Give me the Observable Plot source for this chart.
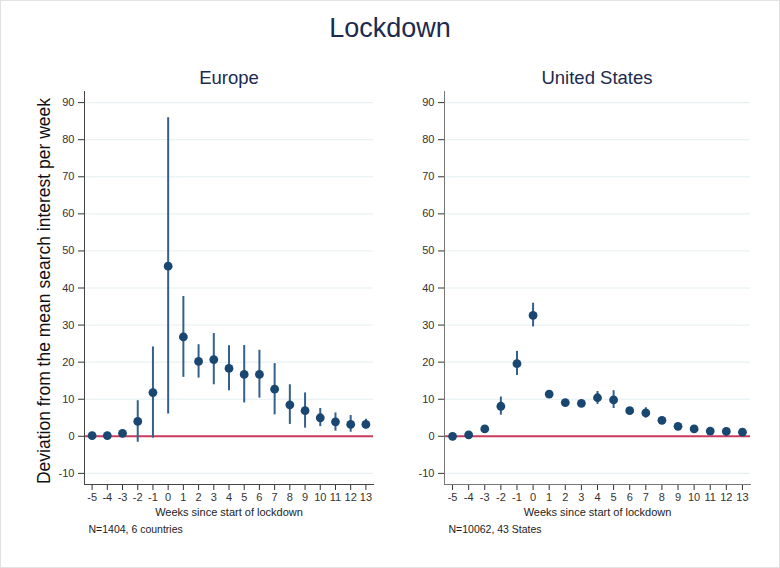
<!DOCTYPE html>
<html>
<head>
<meta charset="utf-8">
<script src="https://cdn.jsdelivr.net/npm/d3@7"></script>
<script src="https://cdn.jsdelivr.net/npm/@observablehq/plot@0.6"></script>
<style>
  html, body { margin: 0; padding: 0; background: #fff; }
  #chart { position: relative; width: 778px; height: 566px; border: 1px solid #e2e2e2; background: #fff; font-family: "Liberation Sans", Arial, sans-serif; overflow: hidden; }
  .abs { position: absolute; white-space: nowrap; }
  #title { left: 0; width: 778px; top: 12px; text-align: center; font-size: 27px; color: #1c2a4d; }
  .panel-title { font-size: 18.5px; color: #1c2a4d; transform: translateX(-50%); }
  #ylabel { left: 43px; top: 290px; font-size: 17.5px; color: #111; transform: translate(-50%, -50%) rotate(-90deg); }
  .panel { position: absolute; top: 60px; }
</style>
</head>
<body>
<div id="chart">
  <div id="title" class="abs">Lockdown</div>
  <div class="abs panel-title" style="left:228px; top:66px;">Europe</div>
  <div class="abs panel-title" style="left:596px; top:66px;">United States</div>
  <div id="ylabel" class="abs">Deviation from the mean search interest per week</div>
  <div id="eu" class="panel" style="left:0px;"></div>
  <div id="us" class="panel" style="left:360px;"></div>
</div>
<script>
// Weeks since start of lockdown
const weeks = [-5, -4, -3, -2, -1, 0, 1, 2, 3, 4, 5, 6, 7, 8, 9, 10, 11, 12, 13];
const yTicks = [-10, 0, 10, 20, 30, 40, 50, 60, 70, 80, 90];

// Europe: estimate, lower CI, upper CI
const euEst = [0.2, 0.2, 0.8, 4.0, 11.8, 45.9, 26.8, 20.2, 20.7, 18.3, 16.7, 16.7, 12.7, 8.5, 6.9, 5.0, 3.9, 3.2, 3.2];
const euLo  = [-0.3, -0.2, -0.3, -1.6, -0.5, 6.0, 15.9, 15.7, 13.9, 12.3, 9.0, 10.3, 5.8, 3.2, 2.2, 2.6, 1.4, 1.1, 2.0];
const euHi  = [0.6, 0.6, 1.7, 9.6, 24.1, 85.9, 37.7, 24.7, 27.7, 24.4, 24.5, 23.2, 19.6, 13.9, 11.7, 7.5, 6.3, 5.6, 4.6];

// United States: estimate, lower CI, upper CI
const usEst = [0.0, 0.4, 2.0, 8.1, 19.6, 32.6, 11.4, 9.1, 8.9, 10.4, 9.8, 6.9, 6.3, 4.3, 2.7, 2.0, 1.4, 1.3, 1.1];
const usLo  = [-0.2, 0.1, 1.6, 5.7, 16.4, 29.5, 11.0, 8.8, 8.6, 8.6, 7.5, 6.6, 4.9, 4.0, 2.4, 1.7, 1.1, 1.0, 0.8];
const usHi  = [0.2, 0.7, 2.4, 10.6, 22.9, 35.9, 11.8, 9.4, 9.2, 12.1, 12.3, 7.2, 7.7, 4.6, 3.0, 2.3, 1.7, 1.6, 1.4];

const euNote = "N=1404, 6 countries";
const usNote = "N=10062, 43 States";
const xLabel = "Weeks since start of lockdown";

function table(est, lo, hi) {
  return weeks.map((w, i) => ({week: w, est: est[i], lo: lo[i], hi: hi[i]}));
}

function panel(data, note, width, marginRight, axisColor) {
  return Plot.plot({
    width: width,
    height: 500,
    marginLeft: 83,
    marginRight: marginRight,
    marginTop: 30,
    marginBottom: 77,
    style: {fontFamily: "Liberation Sans, Arial, sans-serif", fontSize: "11px", color: "#333", background: "transparent", overflow: "visible"},
    x: {domain: [-5.5, 13.5]},
    y: {domain: [-13, 93]},
    marks: [
      Plot.gridY(yTicks.filter(d => d !== 0), {stroke: "#e4eef0", strokeOpacity: 1, strokeWidth: 1}),
      Plot.ruleY([0], {stroke: "#c93b5d", strokeWidth: 2}),
      Plot.ruleX(data, {x: "week", y1: "lo", y2: "hi", stroke: "#34608e", strokeWidth: 2}),
      Plot.dot(data, {x: "week", y: "est", r: 4.4, fill: "#1a4672", stroke: "none"}),
      Plot.axisY(yTicks, {tickSize: 6, tickPadding: 4, tickFormat: d => String(d), label: null, stroke: "#333", fill: "#333"}),
      Plot.axisX(weeks, {tickSize: 6, tickPadding: 3, tickFormat: d => String(d), label: null, stroke: "#333", fill: "#333"}),
      Plot.frame({anchor: "left", stroke: axisColor}),
      Plot.frame({anchor: "bottom", stroke: axisColor}),
      Plot.text([xLabel], {frameAnchor: "bottom", dy: 28, fontSize: 11, fill: "#222", lineAnchor: "middle"}),
      Plot.text([note], {frameAnchor: "bottom-left", dx: 4, dy: 45, fontSize: 10.5, fill: "#222", textAnchor: "start", lineAnchor: "middle"})
    ]
  });
}

document.getElementById("eu").appendChild(panel(table(euEst, euLo, euHi), euNote, 390, 18, "#444"));
document.getElementById("us").appendChild(panel(table(usEst, usLo, usHi), usNote, 410, 21, "#777"));
</script>
</body>
</html>
